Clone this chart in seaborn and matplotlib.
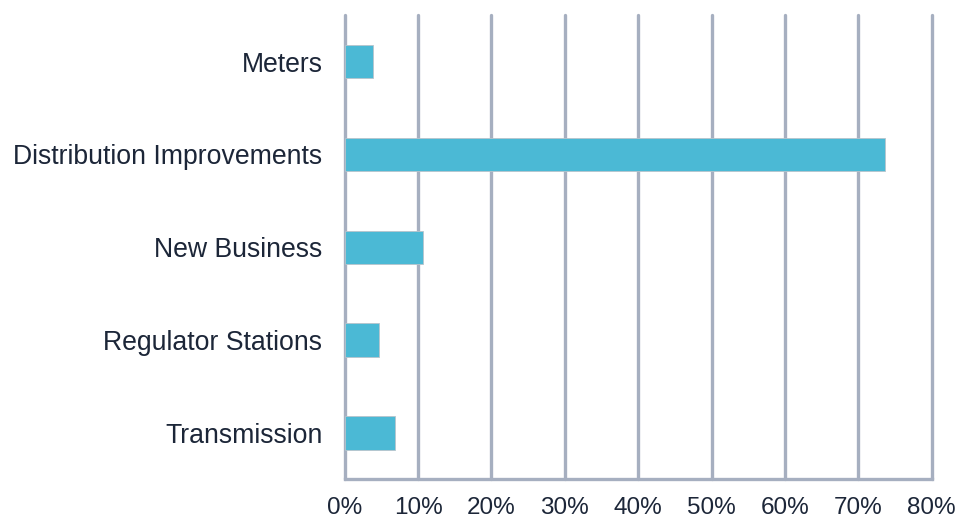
import matplotlib
matplotlib.use("Agg")
import matplotlib.pyplot as plt
import seaborn as sns
import pandas as pd
from matplotlib.ticker import FuncFormatter, MultipleLocator

categories = ["Meters", "Distribution Improvements", "New Business",
              "Regulator Stations", "Transmission"]
shares = [3.9, 73.7, 10.7, 4.7, 6.8]

df = pd.DataFrame({"category": categories, "share": shares})

sns.set_theme(style="white")
plt.rcParams["font.family"] = ["Liberation Sans", "DejaVu Sans"]

bar_color = "#4BB9D5"
grid_color = "#A6AFC0"
text_color = "#1C2638"

fig = plt.figure(figsize=(9.6, 5.2), dpi=100)
ax = fig.add_axes([0.359, 0.078, 0.6115, 0.893])

sns.barplot(data=df, x="share", y="category", orient="h", color=bar_color,
            saturation=1, width=0.36, edgecolor="#B8C4CC", linewidth=0.6,
            ax=ax, zorder=3)

ax.set_xlim(0, 80)
ax.set_ylim(4.5, -0.5)
ax.xaxis.set_major_locator(MultipleLocator(10))
ax.xaxis.set_major_formatter(FuncFormatter(lambda v, _: f"{v:.0f}%"))
ax.grid(axis="x", color=grid_color, linewidth=2.4, zorder=0)
ax.grid(axis="y", visible=False)
for gl in ax.get_xgridlines():
    gl.set_clip_on(False)

for side in ["top", "right", "left"]:
    ax.spines[side].set_visible(False)
ax.spines["bottom"].set_color(grid_color)
ax.spines["bottom"].set_linewidth(2.4)
ax.spines["bottom"].set_capstyle("projecting")

ax.tick_params(axis="x", which="major", direction="out", length=7, width=2.4,
               color=grid_color, labelsize=17.5, labelcolor=text_color, pad=6)
ax.tick_params(axis="y", length=0, labelsize=19.2, labelcolor=text_color, pad=16)
ax.set_xlabel("")
ax.set_ylabel("")

fig.savefig("out.png", dpi=100)
